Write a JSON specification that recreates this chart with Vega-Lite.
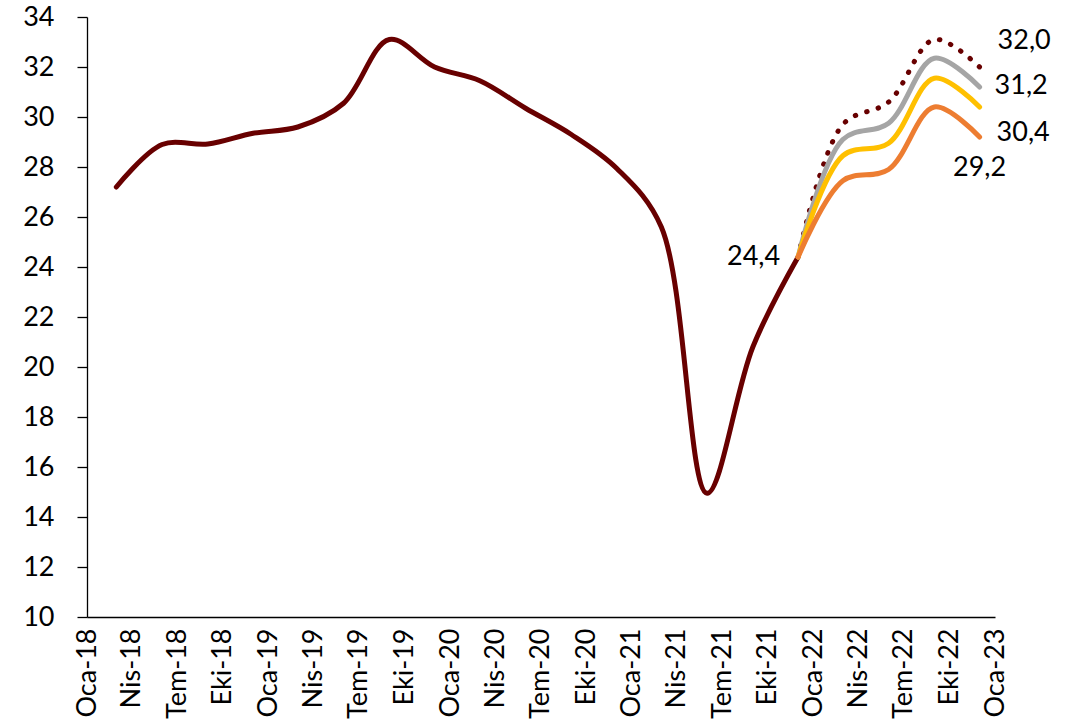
{
  "$schema": "https://vega.github.io/schema/vega-lite/v6.json",
  "width": 908,
  "height": 600,
  "autosize": {"type": "none"},
  "padding": {"left": 87, "top": 17, "right": 86, "bottom": 109},
  "background": "white",
  "config": {
    "view": {"stroke": null},
    "font": "Lato",
    "locale": {"number": {"decimal": ",", "thousands": ".", "grouping": [3], "currency": ["", " TL"]}}
  },
  "datasets": {
    "actual": [
      {"date": "2018-03-01", "value": 27.2},
      {"date": "2018-06-01", "value": 28.9},
      {"date": "2018-09-01", "value": 28.92},
      {"date": "2018-12-01", "value": 29.35},
      {"date": "2019-03-01", "value": 29.6},
      {"date": "2019-06-01", "value": 30.55},
      {"date": "2019-09-01", "value": 33.1},
      {"date": "2019-12-01", "value": 32.0},
      {"date": "2020-03-01", "value": 31.45},
      {"date": "2020-06-01", "value": 30.35},
      {"date": "2020-09-01", "value": 29.3},
      {"date": "2020-12-01", "value": 27.95},
      {"date": "2021-03-01", "value": 25.6},
      {"date": "2021-06-01", "value": 14.95},
      {"date": "2021-09-01", "value": 20.8},
      {"date": "2021-12-01", "value": 24.4}
    ],
    "forecast": [
      {"scenario": "S1", "date": "2021-12-01", "value": 24.4},
      {"scenario": "S1", "date": "2022-03-01", "value": 29.7},
      {"scenario": "S1", "date": "2022-06-01", "value": 30.6},
      {"scenario": "S1", "date": "2022-09-01", "value": 33.1},
      {"scenario": "S1", "date": "2022-12-01", "value": 32.0},
      {"scenario": "S2", "date": "2021-12-01", "value": 24.4},
      {"scenario": "S2", "date": "2022-03-01", "value": 29.1},
      {"scenario": "S2", "date": "2022-06-01", "value": 29.75},
      {"scenario": "S2", "date": "2022-09-01", "value": 32.35},
      {"scenario": "S2", "date": "2022-12-01", "value": 31.2},
      {"scenario": "S3", "date": "2021-12-01", "value": 24.4},
      {"scenario": "S3", "date": "2022-03-01", "value": 28.45},
      {"scenario": "S3", "date": "2022-06-01", "value": 28.95},
      {"scenario": "S3", "date": "2022-09-01", "value": 31.55},
      {"scenario": "S3", "date": "2022-12-01", "value": 30.4},
      {"scenario": "S4", "date": "2021-12-01", "value": 24.4},
      {"scenario": "S4", "date": "2022-03-01", "value": 27.45},
      {"scenario": "S4", "date": "2022-06-01", "value": 27.9},
      {"scenario": "S4", "date": "2022-09-01", "value": 30.4},
      {"scenario": "S4", "date": "2022-12-01", "value": 29.2}
    ]
  },
  "encoding": {
    "x": {
      "field": "date",
      "type": "temporal",
      "scale": {
        "type": "utc",
        "domain": [
          {"year": 2018, "month": 1, "date": 1, "utc": true},
          {"year": 2023, "month": 1, "date": 1, "utc": true}
        ]
      },
      "axis": {
        "title": null,
        "grid": false,
        "values": [
          {"year": 2018, "month": 1, "date": 1, "utc": true},
          {"year": 2018, "month": 4, "date": 1, "utc": true},
          {"year": 2018, "month": 7, "date": 1, "utc": true},
          {"year": 2018, "month": 10, "date": 1, "utc": true},
          {"year": 2019, "month": 1, "date": 1, "utc": true},
          {"year": 2019, "month": 4, "date": 1, "utc": true},
          {"year": 2019, "month": 7, "date": 1, "utc": true},
          {"year": 2019, "month": 10, "date": 1, "utc": true},
          {"year": 2020, "month": 1, "date": 1, "utc": true},
          {"year": 2020, "month": 4, "date": 1, "utc": true},
          {"year": 2020, "month": 7, "date": 1, "utc": true},
          {"year": 2020, "month": 10, "date": 1, "utc": true},
          {"year": 2021, "month": 1, "date": 1, "utc": true},
          {"year": 2021, "month": 4, "date": 1, "utc": true},
          {"year": 2021, "month": 7, "date": 1, "utc": true},
          {"year": 2021, "month": 10, "date": 1, "utc": true},
          {"year": 2022, "month": 1, "date": 1, "utc": true},
          {"year": 2022, "month": 4, "date": 1, "utc": true},
          {"year": 2022, "month": 7, "date": 1, "utc": true},
          {"year": 2022, "month": 10, "date": 1, "utc": true},
          {"year": 2023, "month": 1, "date": 1, "utc": true}
        ],
        "labelExpr": "['Oca','Şub','Mar','Nis','May','Haz','Tem','Ağu','Eyl','Eki','Kas','Ara'][utcmonth(datum.value)] + '-' + utcFormat(datum.value, '%y')",
        "labelAngle": -90,
        "labelAlign": "right",
        "labelBaseline": "middle",
        "ticks": false,
        "labelPadding": 11,
        "labelFont": "Lato",
        "labelFontSize": 27,
        "labelColor": "black",
        "labelOverlap": false,
        "labelFlush": false,
        "labelBound": false,
        "domainColor": "black",
        "domainWidth": 1.3
      }
    },
    "y": {
      "field": "value",
      "type": "quantitative",
      "scale": {"domain": [10, 34], "nice": false, "zero": false},
      "axis": {
        "title": null,
        "grid": false,
        "values": [10, 12, 14, 16, 18, 20, 22, 24, 26, 28, 30, 32, 34],
        "tickSize": 10,
        "tickColor": "black",
        "tickWidth": 1.3,
        "labelPadding": 23,
        "labelFont": "Lato",
        "labelFontSize": 27,
        "labelColor": "black",
        "labelOverlap": false,
        "labelFlush": false,
        "domainColor": "black",
        "domainWidth": 1.3
      }
    }
  },
  "layer": [
    {
      "data": {"name": "actual"},
      "mark": {"type": "line", "color": "#680000", "strokeWidth": 5, "interpolate": "catmull-rom", "strokeCap": "round"},
      "encoding": {}
    },
    {
      "data": {"name": "forecast"},
      "transform": [{"filter": {"field": "scenario", "equal": "S1"}}],
      "mark": {"type": "line", "color": "#680000", "strokeWidth": 5, "strokeDash": [0.5, 11.5], "strokeCap": "round", "interpolate": "catmull-rom"},
      "encoding": {}
    },
    {
      "data": {"name": "forecast"},
      "transform": [{"filter": {"field": "scenario", "equal": "S2"}}],
      "mark": {"type": "line", "color": "#A5A5A5", "strokeWidth": 5, "strokeCap": "round", "interpolate": "catmull-rom"},
      "encoding": {}
    },
    {
      "data": {"name": "forecast"},
      "transform": [{"filter": {"field": "scenario", "equal": "S3"}}],
      "mark": {"type": "line", "color": "#FFC000", "strokeWidth": 5, "strokeCap": "round", "interpolate": "catmull-rom"},
      "encoding": {}
    },
    {
      "data": {"name": "forecast"},
      "transform": [{"filter": {"field": "scenario", "equal": "S4"}}],
      "mark": {"type": "line", "color": "#ED7D31", "strokeWidth": 5, "strokeCap": "round", "interpolate": "catmull-rom"},
      "encoding": {}
    },
    {
      "data": {"name": "actual"},
      "transform": [{"filter": {"field": "date", "equal": {"year": 2021, "month": 12, "date": 1, "utc": true}}}],
      "mark": {"type": "text", "align": "right", "baseline": "middle", "dx": -18, "dy": 0, "fontSize": 27, "font": "Lato", "color": "black"},
      "encoding": {"text": {"field": "value", "type": "quantitative", "format": ".1f"}}
    },
    {
      "data": {"name": "forecast"},
      "transform": [{"filter": {"and": [{"field": "scenario", "equal": "S1"}, {"field": "date", "equal": {"year": 2022, "month": 12, "date": 1, "utc": true}}]}}],
      "mark": {"type": "text", "align": "left", "baseline": "middle", "dx": 18, "dy": -26, "fontSize": 27, "font": "Lato", "color": "black"},
      "encoding": {"text": {"field": "value", "type": "quantitative", "format": ".1f"}}
    },
    {
      "data": {"name": "forecast"},
      "transform": [{"filter": {"and": [{"field": "scenario", "equal": "S2"}, {"field": "date", "equal": {"year": 2022, "month": 12, "date": 1, "utc": true}}]}}],
      "mark": {"type": "text", "align": "left", "baseline": "middle", "dx": 15, "dy": -1, "fontSize": 27, "font": "Lato", "color": "black"},
      "encoding": {"text": {"field": "value", "type": "quantitative", "format": ".1f"}}
    },
    {
      "data": {"name": "forecast"},
      "transform": [{"filter": {"and": [{"field": "scenario", "equal": "S3"}, {"field": "date", "equal": {"year": 2022, "month": 12, "date": 1, "utc": true}}]}}],
      "mark": {"type": "text", "align": "left", "baseline": "middle", "dx": 17, "dy": 26, "fontSize": 27, "font": "Lato", "color": "black"},
      "encoding": {"text": {"field": "value", "type": "quantitative", "format": ".1f"}}
    },
    {
      "data": {"name": "forecast"},
      "transform": [{"filter": {"and": [{"field": "scenario", "equal": "S4"}, {"field": "date", "equal": {"year": 2022, "month": 12, "date": 1, "utc": true}}]}}],
      "mark": {"type": "text", "align": "center", "baseline": "middle", "dx": 0, "dy": 31, "fontSize": 27, "font": "Lato", "color": "black"},
      "encoding": {"text": {"field": "value", "type": "quantitative", "format": ".1f"}}
    }
  ]
}
